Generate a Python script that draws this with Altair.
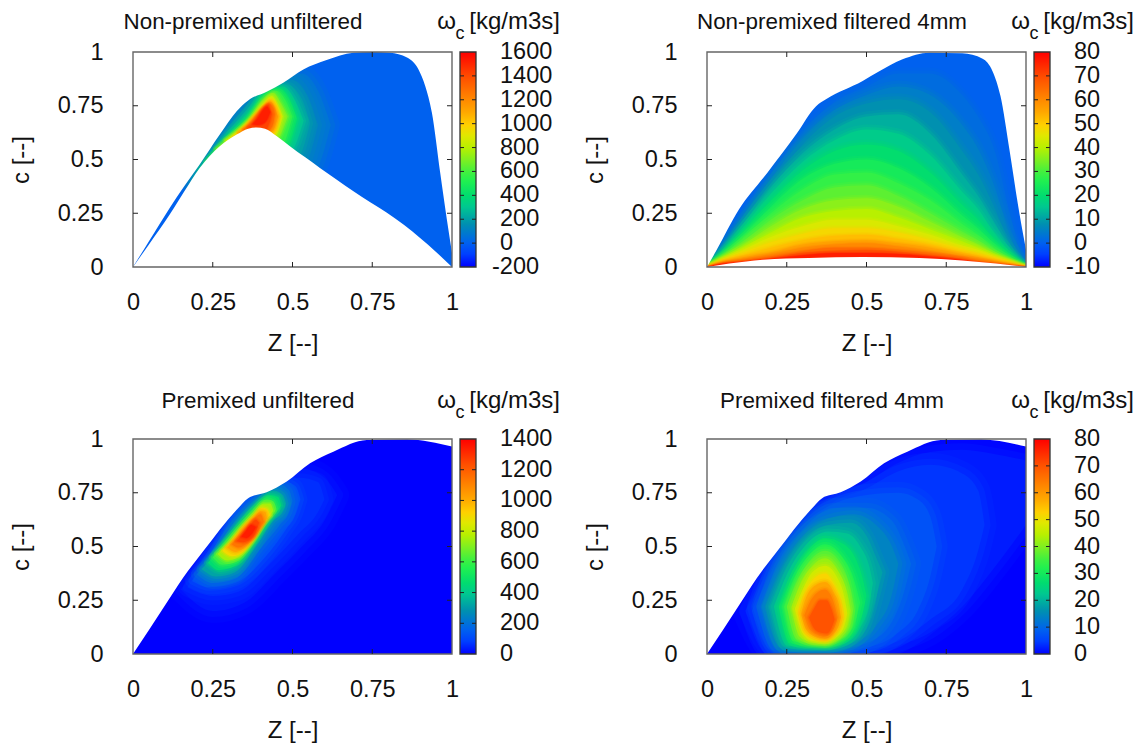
import altair as alt
import pandas as pd

FONT = "Liberation Sans"
FS = 23.5
FS_TITLE = 22.4
FS_AXIS = 24
STOPS = [0, .06, .11, .20, .28, .33, .40, .44, .50, .555, .61, .66, .72, .78, .88, 1]
COLORS = ["#0000ff", "#0040ff", "#0060f0", "#0090b0", "#00c890", "#00dc70", "#20f050", "#40f040",
          "#80f020", "#b8f000", "#e0e800", "#ffd000", "#ffa800", "#ff8800", "#ff5000", "#ff0000"]
TICKS = [0, .25, .5, .75, 1]

# ---------- panel 1: non-premixed unfiltered
P1_UP_Z = [0, .05, .115, .16, .209, .272, .325, .361, .419, .471, .534, .607, .691, .75, .806, .859, .895, .916, .937, .963, .984, 1]
P1_UP_C = [0, .12, .275, .375, .477, .616, .725, .775, .815, .857, .919, .963, .997, 1, .997, .974, .919, .842, .717, .438, .22, .065]
P1_DN_Z = [0, .05, .115, .16, .209, .272, .325, .361, .387, .414, .45, .492, .54, .586, .64, .691, .745, .796, .85, .90, .95, 1]
P1_DN_C = [0, .105, .244, .35, .461, .562, .616, .643, .649, .643, .609, .562, .51, .461, .405, .352, .30, .252, .195, .135, .07, 0]
P1_V = [70, 130, 200, 300, 420, 560, 700, 850, 1000, 1150, 1300, 1420, 1520]
P1_Z = [[.17, .30, .37, .45, .53, .58, .62], [.18, .30, .36, .44, .50, .55, .58], [.19, .30, .36, .43, .48, .53, .555],
        [.20, .30, .36, .42, .47, .51, .535], [.21, .30, .36, .42, .46, .495, .515], [.23, .30, .36, .42, .45, .48, .50],
        [.26, .31, .36, .41, .44, .465, .485], [.29, .33, .37, .41, .435, .455, .47], [.31, .34, .375, .41, .43, .45, .46],
        [.33, .355, .38, .41, .43, .445, .455], [.345, .365, .385, .41, .425, .44, .445], [.36, .375, .39, .41, .425, .43, .435],
        [.375, .39, .405, .42, .43]]
P1_HI = [[.38, .66, .78, .87, .90, .82, .66], [.38, .645, .76, .85, .87, .79, .66], [.40, .63, .74, .84, .85, .78, .67],
         [.42, .62, .72, .83, .84, .77, .68], [.45, .61, .70, .815, .83, .77, .69], [.49, .60, .685, .80, .82, .77, .70],
         [.55, .61, .68, .78, .81, .76, .70], [.59, .635, .69, .765, .795, .75, .70], [.60, .64, .695, .75, .78, .75, .70],
         [.625, .655, .70, .745, .77, .74, .70], [.64, .665, .70, .745, .76, .74, .71], [.65, .67, .70, .74, .755, .735, .71],
         [.665, .69, .725, .745, .72]]
P1_LO = [[.38, .30, .30, .30, .38, .46, .66], [.38, .30, .30, .30, .40, .50, .66], [.40, .30, .30, .30, .45, .54, .67],
         [.42, .30, .30, .30, .48, .57, .68], [.45, .30, .30, .30, .50, .59, .69], [.49, .30, .30, .40, .52, .60, .70],
         [.55, .40, .40, .40, .55, .62, .70], [.59, .50, .50, .50, .58, .63, .70], [.60, .55, .55, .55, .60, .64, .70],
         [.625, .58, .58, .58, .62, .65, .70], [.64, .60, .60, .60, .63, .67, .71], [.65, .62, .62, .62, .66, .68, .71],
         [.665, .66, .665, .685, .72]]
P1_FEATHER = [18, 16, 12, 10, 8, 7, 6, 6, 5, 5, 4, 4, 3]

# ---------- panel 2: non-premixed filtered
P2_UP_Z = [0, .028, .10, .19, .279, .342, .373, .488, .54, .613, .697, .80, .864, .895, .92, .948, .979, 1]
P2_UP_C = [0, .073, .267, .44, .616, .748, .78, .865, .91, .966, .997, .994, .969, .911, .795, .547, .252, .08]
P2_DN_Z = [0, .07, .175, .32, .488, .666, .80, .906, 1]
P2_DN_C = [0, .016, .034, .042, .047, .042, .03, .016, 0]
P2_GRID = [0, .05, .1, .2, .3, .4, .5, .6, .7, .8, .85, .9, .95, .98, 1]
P2_V = [2, 5, 8, 12, 16, 20, 24, 28, 32, 36, 40, 44, 48, 52, 56, 60, 65, 70, 76]
P2_HI = [[0, .10, .21, .43, .63, .77, .84, .90, .90, .80, .70, .55, .25, .08, 0],
         [0, .09, .20, .41, .60, .73, .80, .84, .80, .66, .55, .38, .15, .05, 0],
         [0, .085, .19, .39, .57, .70, .76, .78, .72, .54, .43, .28, .11, .04, 0],
         [0, .08, .175, .37, .53, .64, .70, .71, .62, .43, .33, .21, .085, .03, 0],
         [0, .07, .16, .34, .49, .59, .64, .62, .52, .35, .27, .16, .07, .025, 0],
         [0, .065, .145, .31, .45, .54, .57, .54, .44, .29, .22, .13, .06, .02, 0],
         [0, .06, .13, .28, .41, .48, .50, .46, .37, .24, .18, .11, .05, .02, 0],
         [0, .055, .12, .25, .36, .43, .44, .39, .31, .20, .15, .09, .04, .015, 0],
         [0, .05, .105, .22, .31, .37, .38, .33, .25, .165, .125, .075, .035, .012, 0],
         [0, .045, .09, .19, .27, .31, .32, .28, .21, .14, .105, .065, .03, .011, 0],
         [0, .04, .08, .16, .23, .26, .27, .23, .175, .12, .09, .055, .027, .01, 0],
         [0, .037, .07, .14, .19, .22, .22, .19, .15, .10, .08, .05, .025, .009, 0],
         [0, .033, .06, .115, .155, .18, .18, .16, .125, .085, .065, .045, .022, .008, 0],
         [0, .03, .05, .09, .125, .145, .15, .13, .105, .07, .055, .035, .02, .007, 0],
         [0, .026, .042, .07, .105, .12, .125, .11, .09, .06, .045, .03, .015, .006, 0],
         [0, .022, .035, .06, .09, .105, .11, .095, .075, .05, .04, .025, .012, .005, 0],
         [0, .02, .03, .05, .075, .09, .09, .08, .065, .045, .03, .02, .01, .004, 0],
         [0, .018, .025, .042, .065, .075, .078, .07, .055, .037, .025, .016, .008, .003, 0],
         [0, .015, .022, .037, .055, .065, .065, .06, .048, .032, .02, .014, .006, .002, 0]]
P2_FEATHER = [12, 12, 12, 10, 10, 10, 8, 8, 8, 7, 7, 6, 6, 5, 4, 3, 3, 2, 2]

# ---------- panel 3: premixed unfiltered
P3_UP_Z = [0, .05, .10, .157, .22, .325, .361, .419, .482, .555, .628, .733, .859, 1]
P3_UP_C = [0, .112, .226, .355, .478, .671, .725, .752, .802, .887, .941, .995, .998, .965]
P3_V = [30, 60, 120, 200, 320, 460, 600, 750, 900, 1020, 1140, 1260, 1340]
P3_Z = [[.15, .25, .35, .45, .53, .60, .64], [.17, .25, .33, .43, .52, .58, .60], [.185, .24, .32, .42, .48, .51, .525],
        [.20, .25, .32, .40, .46, .49, .50], [.215, .26, .32, .39, .44, .47, .48], [.235, .27, .32, .38, .43, .455, .465],
        [.25, .28, .325, .38, .42, .44, .45], [.265, .295, .33, .38, .41, .43, .44], [.28, .31, .34, .38, .405, .42, .43],
        [.295, .32, .345, .38, .40, .415, .42], [.31, .33, .355, .38, .40, .41], [.325, .345, .365, .385, .395],
        [.34, .355, .37, .385]]
P3_HI = [[.30, .50, .72, .82, .86, .82, .74], [.31, .50, .70, .78, .82, .80, .72], [.34, .46, .66, .78, .80, .78, .72],
         [.37, .46, .62, .74, .79, .76, .71], [.395, .47, .60, .71, .76, .74, .70], [.425, .49, .58, .68, .74, .73, .69],
         [.45, .50, .575, .67, .72, .71, .675], [.465, .51, .575, .655, .70, .70, .665], [.48, .525, .58, .645, .68, .675, .645],
         [.495, .535, .585, .635, .665, .66, .63], [.51, .545, .59, .63, .65, .615], [.525, .56, .595, .625, .61],
         [.545, .575, .60, .59]]
P3_LO = [[.30, .20, .24, .38, .50, .62, .74], [.31, .27, .29, .42, .56, .66, .72], [.34, .31, .33, .46, .58, .65, .72],
         [.37, .33, .35, .49, .60, .66, .71], [.395, .36, .38, .51, .62, .66, .70], [.425, .39, .41, .52, .63, .67, .69],
         [.45, .415, .43, .53, .62, .655, .675], [.465, .435, .45, .54, .61, .645, .665], [.48, .455, .47, .54, .60, .63, .645],
         [.495, .475, .49, .545, .59, .62, .63], [.51, .495, .51, .55, .59, .615], [.525, .52, .53, .565, .61],
         [.545, .54, .555, .59]]
P3_FEATHER = [24, 18, 14, 12, 10, 8, 8, 7, 6, 6, 5, 5, 4]

# ---------- panel 4: premixed filtered
P4_V = [2, 4, 7, 10, 14, 18, 22, 27, 32, 37, 42, 47, 52, 58, 64, 70]
P4_Z = [[.12, .2, .3, .4, .5, .6, .7, .8, .9, 1.0], [.14, .2, .3, .4, .5, .6, .7, .8, .85, .87],
        [.16, .22, .3, .4, .5, .6, .66, .70, .72], [.17, .22, .3, .4, .5, .58, .62, .64],
        [.18, .23, .3, .38, .46, .53, .58, .60], [.195, .24, .3, .38, .45, .5, .53, .55],
        [.21, .25, .3, .38, .44, .48, .51, .52], [.225, .26, .31, .37, .43, .47, .49, .50],
        [.24, .27, .32, .37, .42, .46, .48], [.25, .28, .32, .37, .42, .45, .46],
        [.265, .29, .33, .37, .41, .44, .45], [.275, .30, .33, .37, .41, .43, .44],
        [.285, .305, .335, .37, .40, .42, .43], [.295, .31, .34, .37, .40, .415, .42],
        [.305, .32, .345, .37, .395, .41], [.32, .335, .355, .375, .39, .40]]
P4_HI = [[.20, .40, .60, .73, .80, .89, .94, .95, .93, .90], [.20, .38, .58, .71, .77, .85, .88, .84, .76, .60],
         [.22, .44, .60, .70, .74, .75, .72, .64, .50], [.22, .42, .58, .68, .68, .62, .50, .42],
         [.22, .40, .55, .63, .65, .60, .50, .42], [.22, .38, .52, .60, .61, .55, .45, .38],
         [.22, .37, .49, .57, .56, .50, .40, .33], [.22, .34, .47, .54, .51, .43, .34, .27],
         [.22, .34, .46, .51, .46, .35, .24], [.22, .33, .43, .48, .42, .30, .22],
         [.22, .32, .41, .445, .39, .28, .20], [.21, .30, .38, .41, .35, .27, .19],
         [.20, .28, .35, .375, .32, .25, .18], [.19, .26, .32, .335, .28, .22, .17],
         [.18, .235, .285, .30, .25, .17], [.17, .21, .25, .25, .21, .16]]
P4_LO = [[.20, .01, .005, .005, .01, .04, .10, .22, .40, .60], [.20, .02, .01, .01, .02, .06, .16, .30, .48, .60],
         [.22, .02, .015, .015, .03, .10, .20, .36, .50], [.22, .03, .02, .02, .05, .15, .30, .42],
         [.22, .03, .025, .025, .05, .13, .28, .42], [.22, .035, .03, .03, .05, .12, .26, .38],
         [.22, .04, .035, .035, .055, .12, .24, .33], [.22, .05, .04, .04, .06, .12, .20, .27],
         [.22, .06, .045, .04, .065, .13, .24], [.22, .07, .05, .045, .07, .13, .22],
         [.22, .08, .055, .05, .08, .13, .20], [.21, .095, .06, .055, .085, .13, .19],
         [.20, .10, .07, .06, .09, .13, .18], [.19, .115, .08, .07, .10, .14, .17],
         [.18, .12, .09, .08, .11, .17], [.17, .12, .10, .095, .12, .16]]
P4_FEATHER = [26, 24, 22, 20, 16, 14, 12, 10, 10, 9, 9, 8, 7, 7, 6, 5]

W, H, BAR = 319, 215, 16
x_scale = alt.Scale(domain=[0, 1], nice=False, zero=False)
y_scale = alt.Scale(domain=[0, 1], nice=False, zero=False)


def text(label, x, y, size=FS, align="center"):
    return alt.Chart(alt.Data(values=[{"t": label}])).mark_text(
        font=FONT, fontSize=size, align=align, baseline="middle", color="#111111"
    ).encode(x=alt.value(x), y=alt.value(y), text="t:N")


def panel(title, title_x, title_y, vmin, vmax, levels, z_rows, lo_rows, hi_rows, feather, up_z, up_c, dn_z=None, dn_c=None):
    domain = [vmin + s * (vmax - vmin) for s in STOPS]
    color_scale = alt.Scale(domain=domain, range=COLORS, interpolate="rgb", clamp=True)
    stroke_scale = alt.Scale(domain=domain, range=COLORS, interpolate="rgb", clamp=True)
    x_enc = alt.X("z:Q", scale=x_scale, axis=alt.Axis(
        values=TICKS, labelExpr="'' + datum.value", title="Z [--]", tickSize=0, domain=False, grid=False,
        labelPadding=23, titlePadding=18, labelFont=FONT, labelFontSize=FS, titleFont=FONT, titleFontSize=FS_AXIS,
        titleFontWeight="normal", labelColor="#111111", titleColor="#111111", labelFlush=False, labelOverlap=False))
    y_enc = alt.Y("hi:Q", scale=y_scale, axis=alt.Axis(
        values=TICKS, labelExpr="'' + datum.value", title="c [--]", tickSize=0, domain=False, grid=False,
        labelPadding=30, labelAlign="right", titlePadding=24, labelFont=FONT, labelFontSize=FS, titleFont=FONT,
        titleFontSize=FS_AXIS, titleFontWeight="normal", labelColor="#111111", titleColor="#111111", labelFlush=False,
        labelOverlap=False))
    base_df = pd.DataFrame({"z": [0, 1], "lo": [0, 0], "hi": [1, 1], "v": [0, 0]})
    layers = [alt.Chart(base_df).mark_area(clip=True).encode(
        x=x_enc, y=y_enc, y2="lo:Q", color=alt.Color("v:Q", scale=color_scale, legend=None))]
    for v, z, lo, hi, fw in zip(levels, z_rows, lo_rows, hi_rows, feather):
        df = pd.DataFrame({"z": z, "lo": lo, "hi": hi, "v": [v] * len(z)})
        enc = dict(x=alt.X("z:Q", scale=x_scale), y=alt.Y("hi:Q", scale=y_scale), y2="lo:Q",
                   color=alt.Color("v:Q", scale=color_scale, legend=None))
        for factor, op in ((1.0, .22), (.5, .4)):
            layers.append(alt.Chart(df).mark_area(
                clip=True, interpolate="monotone", strokeWidth=fw * factor, opacity=op, strokeJoin="round"
            ).encode(stroke=alt.Stroke("v:Q", scale=stroke_scale, legend=None), **enc))
        layers.append(alt.Chart(df).mark_area(clip=True, interpolate="monotone").encode(**enc))
    up = pd.DataFrame({"z": up_z, "hi": [1] * len(up_z), "lo": up_c})
    layers.append(alt.Chart(up).mark_area(clip=True, color="white", interpolate="monotone").encode(
        x=alt.X("z:Q", scale=x_scale), y=alt.Y("hi:Q", scale=y_scale), y2="lo:Q"))
    if dn_z:
        dn = pd.DataFrame({"z": dn_z, "hi": dn_c, "lo": [0] * len(dn_z)})
        layers.append(alt.Chart(dn).mark_area(clip=True, color="white", interpolate="monotone").encode(
            x=alt.X("z:Q", scale=x_scale), y=alt.Y("hi:Q", scale=y_scale), y2="lo:Q"))
    # frame and inward ticks
    frame = pd.DataFrame({"z": [0], "z2": [1], "hi": [0], "lo": [1]})
    layers.append(alt.Chart(frame).mark_rect(filled=False, stroke="#666666", strokeWidth=1.4).encode(
        x=alt.X("z:Q", scale=x_scale), x2="z2:Q", y=alt.Y("hi:Q", scale=y_scale), y2="lo:Q"))
    inner = pd.DataFrame({"t": TICKS[1:-1]})
    for a, b in ((H, H - 5), (0, 5)):
        layers.append(alt.Chart(inner).mark_rule(color="#222222", strokeWidth=1).encode(
            x=alt.X("t:Q", scale=x_scale), y=alt.value(a), y2=alt.value(b)))
    for a, b in ((0, 5), (W, W - 5)):
        layers.append(alt.Chart(inner).mark_rule(color="#222222", strokeWidth=1).encode(
            y=alt.Y("t:Q", scale=y_scale), x=alt.value(a), x2=alt.value(b)))
    layers.append(text(title, title_x, title_y, size=FS_TITLE))
    return alt.layer(*layers).properties(width=W, height=H)


def colorbar(vmin, vmax, step, panel_width, title_y):
    grad = alt.Gradient(gradient="linear", x1=0, x2=0, y1=1, y2=0,
                        stops=[alt.GradientStop(color=c, offset=s) for s, c in zip(STOPS, COLORS)])
    vals = list(range(vmin, vmax + 1, step))
    scale = alt.Scale(domain=[vmin, vmax], nice=False, zero=False)
    bar = alt.Chart(pd.DataFrame({"a": [vmin], "b": [vmax]})).mark_rect(
        color=grad, stroke="#333333", strokeWidth=1.3
    ).encode(
        x=alt.value(0), x2=alt.value(BAR),
        y=alt.Y("a:Q", scale=scale, axis=None),
        y2="b:Q")
    ticks = pd.DataFrame({"t": vals[1:-1]})
    layers = [bar]
    for a, b in ((0, 4), (BAR - 4, BAR)):
        layers.append(alt.Chart(ticks).mark_rule(color="#222222", strokeWidth=1).encode(
            y=alt.Y("t:Q", scale=scale), x=alt.value(a), x2=alt.value(b)))
    labels = pd.DataFrame({"t": vals, "s": [str(v) for v in vals], "neg": [v < 0 for v in vals]})
    for flag, xpos in ((False, 40), (True, 32)):
        sub = labels[labels["neg"] == flag]
        if len(sub):
            layers.append(alt.Chart(sub).mark_text(
                font=FONT, fontSize=FS, align="left", baseline="middle", color="#111111"
            ).encode(y=alt.Y("t:Q", scale=scale), x=alt.value(xpos), text="s:N"))
    layers.append(text("\u03c9", -13.5, title_y, size=FS_AXIS))
    layers.append(text("c", 0, title_y + 12, size=18))
    layers.append(text("[kg/m3s]", 100, title_y, size=FS_AXIS, align="right"))
    return alt.layer(*layers).properties(width=panel_width, height=H)


T1, T2 = -30, -38
p1 = panel("Non-premixed unfiltered", 110, T1, -200, 1600, P1_V, P1_Z, P1_LO, P1_HI, P1_FEATHER,
           P1_UP_Z, P1_UP_C, P1_DN_Z, P1_DN_C)
p2 = panel("Non-premixed filtered 4mm", 125, T1, -10, 80, P2_V, [P2_GRID] * len(P2_V), [[0] * len(P2_GRID)] * len(P2_V),
           P2_HI, P2_FEATHER, P2_UP_Z, P2_UP_C, P2_DN_Z, P2_DN_C)
p3 = panel("Premixed unfiltered", 125, T2, 0, 1400, P3_V, P3_Z, P3_LO, P3_HI, P3_FEATHER, P3_UP_Z, P3_UP_C)
p4 = panel("Premixed filtered 4mm", 125, T2, 0, 80, P4_V, P4_Z, P4_LO, P4_HI, P4_FEATHER, P3_UP_Z, P3_UP_C)

chart = alt.concat(
    p1, colorbar(-200, 1600, 200, 239, T1), p2, colorbar(-10, 80, 10, 100, T1),
    p3, colorbar(0, 1400, 200, 239, T2), p4, colorbar(0, 80, 10, 100, T2),
    columns=4, spacing=alt.RowColnumber(row=172, column=8), bounds="flush", align="each",
).resolve_scale(color="independent", stroke="independent").properties(
    padding={"left": 1, "top": 2, "right": 0, "bottom": 0}, background="white"
).configure_view(strokeWidth=0)

chart.save("out.html", embed_options={"renderer": "svg", "actions": False})
